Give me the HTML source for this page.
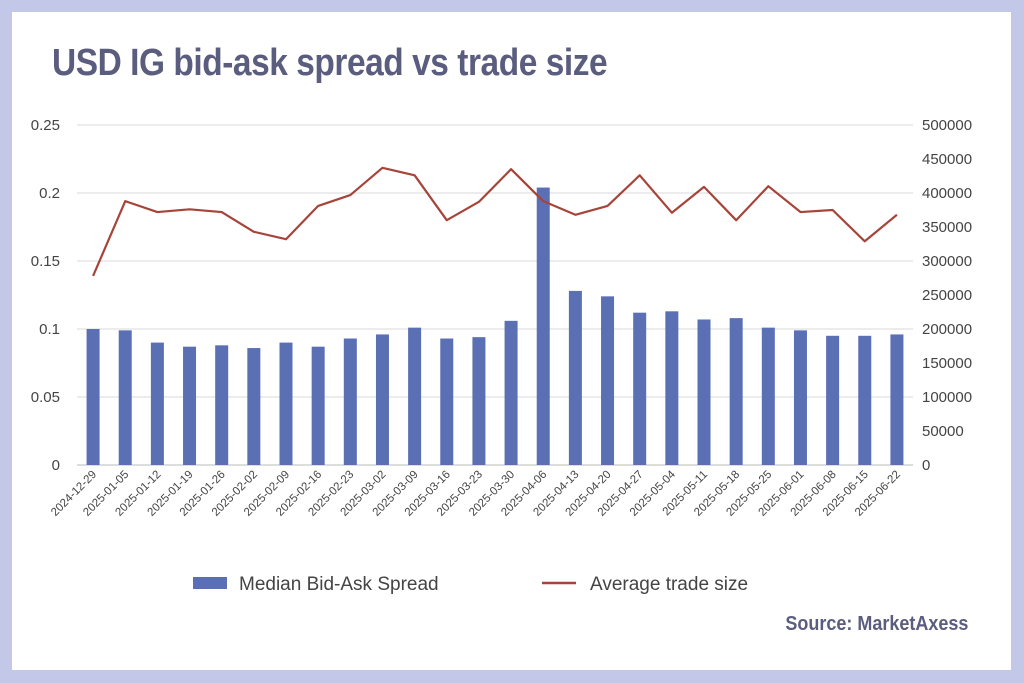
<!DOCTYPE html>
<html><head><meta charset="utf-8"><style>
body{margin:0;background:#c3c8e8;}
#frame{position:absolute;left:0;top:0;width:1024px;height:683px;background:#c3c8e8;}
#panel{position:absolute;left:12px;top:12px;width:999px;height:658px;background:#fff;}
#title{position:absolute;left:52px;top:42px;font:bold 38px "Liberation Sans",sans-serif;color:#5b5d7f;letter-spacing:-0.5px;transform:scaleX(0.88);transform-origin:left;}
#src{position:absolute;right:56px;top:613px;font:bold 20px "Liberation Sans",sans-serif;color:#5b5d7f;transform:scaleX(0.9);transform-origin:right;}
svg{position:absolute;left:0;top:0;}
text{font-family:"Liberation Sans",sans-serif;fill:#444;}
</style></head><body>
<div id="frame">
<div id="panel"></div>
<div id="title">USD IG bid-ask spread vs trade size</div>
<div id="src">Source: MarketAxess</div>
<svg id="chart" width="1024" height="683"></svg>
</div>
<script>
const categories=["2024-12-29","2025-01-05","2025-01-12","2025-01-19","2025-01-26","2025-02-02","2025-02-09","2025-02-16","2025-02-23","2025-03-02","2025-03-09","2025-03-16","2025-03-23","2025-03-30","2025-04-06","2025-04-13","2025-04-20","2025-04-27","2025-05-04","2025-05-11","2025-05-18","2025-05-25","2025-06-01","2025-06-08","2025-06-15","2025-06-22"];
const spreadValues=[0.1,0.099,0.09,0.087,0.088,0.086,0.09,0.087,0.093,0.096,0.101,0.093,0.094,0.106,0.204,0.128,0.124,0.112,0.113,0.107,0.108,0.101,0.099,0.095,0.095,0.096];
const tradeSizeValues=[278000,388000,372000,376000,372000,343000,332000,381000,397000,437000,426000,360000,387000,435000,388000,368000,381000,426000,371000,409000,360000,410000,372000,375000,329000,368000];
const leftTicks=["0","0.05","0.1","0.15","0.2","0.25"];
const rightTicks=["0","50000","100000","150000","200000","250000","300000","350000","400000","450000","500000"];
const NS="http://www.w3.org/2000/svg";
const svg=document.getElementById('chart');
const x0=77,x1=913,yB=465,yT=125;
const step=(x1-x0)/categories.length;
const xc=i=>x0+step*(i+0.5);
const yL=v=>yB-(v/0.25)*(yB-yT);
const yR=v=>yB-(v/500000)*(yB-yT);
function mk(tag,attrs){const e=document.createElementNS(NS,tag);for(const k in attrs)e.setAttribute(k,attrs[k]);svg.appendChild(e);return e;}
leftTicks.forEach(t=>{const v=parseFloat(t);const y=yL(v);
 const g=mk('line',{x1:x0,x2:x1,y1:y,y2:y,stroke:v===0?'#bbb':'#d9d9d9','stroke-width':1});
 
 const tx=mk('text',{x:60,y:y+5,'text-anchor':'end','font-size':15});tx.textContent=t;
 });
rightTicks.forEach(t=>{const y=yR(parseFloat(t));
 const tx=mk('text',{x:922,y:y+5,'text-anchor':'start','font-size':15});tx.textContent=t;
 });
spreadValues.forEach((v,i)=>{const b=mk('rect',{x:xc(i)-6.5,y:yL(v),width:13,height:yB-yL(v),fill:'#5a6fb4'});
 });
const pts=tradeSizeValues.map((v,i)=>xc(i)+','+yR(v)).join(' ');
const pl=mk('polyline',{points:pts,fill:'none',stroke:'#a7443a','stroke-width':2.2,'stroke-linejoin':'round'});

categories.forEach((c,i)=>{const x=xc(i)+4,y=yB+10;
 const t=mk('text',{x:x,y:y,'text-anchor':'end','font-size':11.5,transform:`rotate(-45 ${x} ${y})`});t.textContent=c;
 });
const lb=mk('rect',{x:193,y:577,width:34,height:12,fill:'#5a6fb4'});

const lt1=mk('text',{x:239,y:590,'font-size':19});lt1.textContent='Median Bid-Ask Spread';

const ll=mk('line',{x1:542,x2:576,y1:583,y2:583,stroke:'#a7443a','stroke-width':2.5});

const lt2=mk('text',{x:590,y:590,'font-size':19});lt2.textContent='Average trade size';

</script>
</body></html>
